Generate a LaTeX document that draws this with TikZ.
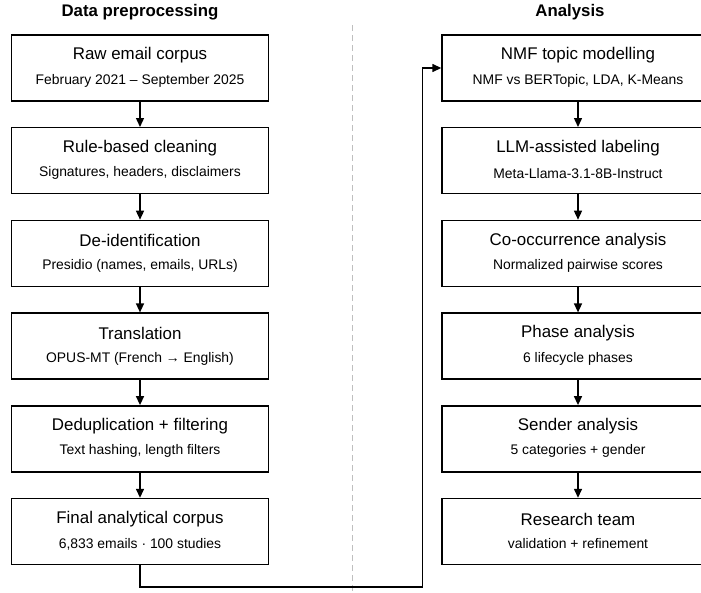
\documentclass[tikz,border=0pt]{standalone}
\usepackage{fontspec}
\setmainfont{Liberation Sans}
\usetikzlibrary{arrows.meta}
\begin{document}
\begin{tikzpicture}[x=1pt,y=-1pt,
  stagebox/.style={draw=black, line width=1.4pt, minimum height=66pt, inner sep=0pt},
  lbox/.style={stagebox, minimum width=257.5pt},
  rbox/.style={stagebox, minimum width=272pt},
  ttl/.style={font=\fontsize{16.9}{20}\selectfont},
  sub/.style={font=\fontsize{13.9}{16}\selectfont},
  head/.style={font=\bfseries\fontsize{16.8}{19}\selectfont},
  flow/.style={line width=1.4pt, -{Triangle[length=9pt,width=8pt]}},
  sep/.style={draw=black!25, line width=1.3pt, dash pattern=on 6pt off 4pt}
]
\useasboundingbox (0,0) rectangle (701,592);
\clip (0,0) rectangle (701,592);

\node[head] (hl) at (140,12) {Data preprocessing};
\node[head] (hr) at (570,12) {Analysis};

\coordinate (st) at (352.5,25);
\coordinate (sb) at (352.5,592);
\draw[sep] (st) -- (sb);

% left column
\foreach \n/\y/\t/\s in {
  a/68/{Raw email corpus}/{February 2021 – September 2025},
  b/160.7/{Rule-based cleaning}/{Signatures, headers, disclaimers},
  c/253.4/{De-identification}/{Presidio (names, emails, URLs)},
  d/346.1/{Translation}/{OPUS-MT (French → English)},
  e/438.8/{Deduplication + filtering}/{Text hashing, length filters},
  f/531.5/{Final analytical corpus}/{6,833 emails · 100 studies}}{
  \node[lbox] (\n) at (140,\y) {};
  \node[ttl] (\n t) at (140,\y-12.5) {\t};
  \node[sub] (\n s) at (140,\y+12.5) {\s};
}

% right column
\foreach \n/\y/\t/\s in {
  g/68/{NMF topic modelling}/{NMF vs BERTopic, LDA, K-Means},
  h/160.7/{LLM-assisted labeling}/{Meta-Llama-3.1-8B-Instruct},
  i/253.4/{Co-occurrence analysis}/{Normalized pairwise scores},
  j/346.1/{Phase analysis}/{6 lifecycle phases},
  k/438.8/{Sender analysis}/{5 categories + gender},
  l/531.5/{Research team}/{validation + refinement}}{
  \node[rbox] (\n) at (578,\y) {};
  \node[ttl] (\n t) at (578,\y-12.5) {\t};
  \node[sub] (\n s) at (578,\y+12.5) {\s};
}

\foreach \p/\q in {a/b,b/c,c/d,d/e,e/f,g/h,h/i,i/j,j/k,k/l}{
  \draw[flow] (\p.south) -- (\q.north);
}

\coordinate (c1) at (140,587);
\coordinate (c2) at (422.5,587);
\draw[flow] (f.south) -- (c1) -- (c2) |- (g.west);
\end{tikzpicture}
\end{document}
